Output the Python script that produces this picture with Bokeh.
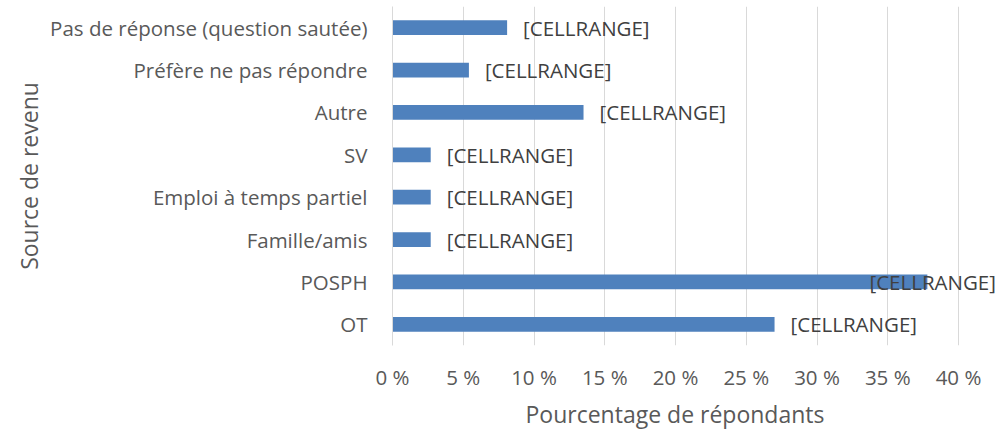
from bokeh.plotting import figure
from bokeh.models import ColumnDataSource, LabelSet, FixedTicker, CustomJSTickFormatter, FactorRange, Range1d, Title
from bokeh.core.properties import value
from bokeh.embed import file_html
from bokeh.resources import INLINE

categories = ["OT", "POSPH", "Famille/amis", "Emploi à temps partiel", "SV", "Autre",
              "Préfère ne pas répondre", "Pas de réponse (question sautée)"]
values = [27.0, 37.8, 2.7, 2.7, 2.7, 13.5, 5.4, 8.1]
labels = ["[CELLRANGE]"] * len(categories)
tick_values = [0, 5, 10, 15, 20, 25, 30, 35, 40]
x_title = "Pourcentage de répondants"
y_title = "Source de revenu"

FONT = "Open Sans"
TXT = "#595959"

width, height = 1000, 431
frame_left, frame_right, frame_top, frame_bottom = 392, 2, 6, 84
axis_max = 40
axis_px = 566  # pixel length of 0..40 %
frame_w = width - frame_left - frame_right
x_end = axis_max * frame_w / axis_px
px_per_unit = axis_px / axis_max
label_w = 128
max_right = frame_w - 1
offsets = []
for v in values:
    start = v * px_per_unit + 16
    if start + label_w > max_right:
        offsets.append(16 - (start + label_w - max_right))
    else:
        offsets.append(16)

src = ColumnDataSource(dict(cat=categories, val=values, lab=labels, off=offsets))

p = figure(width=width, height=height, y_range=FactorRange(*categories),
           x_range=Range1d(0, x_end), output_backend="svg", toolbar_location=None,
           min_border_left=frame_left, min_border_right=frame_right,
           min_border_top=frame_top, min_border_bottom=frame_bottom)
p.outline_line_color = None
p.background_fill_color = "white"
p.border_fill_color = "white"

p.hbar(y="cat", right="val", left=0, height=0.35, source=src,
       fill_color="#4F81BD", line_color=None)

p.add_layout(LabelSet(x="val", y="cat", text="lab", source=src, x_offset="off",
                      text_baseline="middle", text_align="left",
                      text_font=value(FONT), text_font_size="20.5px", text_color="#404040"))

p.xaxis.ticker = FixedTicker(ticks=tick_values)
p.xaxis.formatter = CustomJSTickFormatter(code="return tick + '\u00a0%';")
p.xaxis.axis_line_color = None
p.xaxis.major_tick_line_color = None
p.xaxis.minor_tick_line_color = None
p.xaxis.major_label_standoff = 11
p.xaxis.major_label_text_font = FONT
p.xaxis.major_label_text_font_size = "20.5px"
p.xaxis.major_label_text_color = TXT

# x-axis title, centred under the 0-40 % span
p.add_layout(Title(text=x_title, align="left", offset=133, standoff=4,
                   text_font=FONT, text_font_size="23px", text_font_style="normal",
                   text_color=TXT), "below")

p.yaxis.axis_line_color = "#D9D9D9"
p.yaxis.axis_line_width = 1
p.yaxis.major_tick_line_color = None
p.yaxis.minor_tick_line_color = None
p.yaxis.major_label_standoff = 19
p.yaxis.major_label_text_font = FONT
p.yaxis.major_label_text_font_size = "20.5px"
p.yaxis.major_label_text_color = TXT
p.yaxis.axis_label = y_title
p.yaxis.axis_label_text_font = FONT
p.yaxis.axis_label_text_font_size = "23px"
p.yaxis.axis_label_text_font_style = "normal"
p.yaxis.axis_label_text_color = TXT
p.yaxis.axis_label_standoff = 2

p.xgrid.grid_line_color = "#D9D9D9"
p.ygrid.grid_line_color = None

open("out.html", "w").write(file_html(p, INLINE))
